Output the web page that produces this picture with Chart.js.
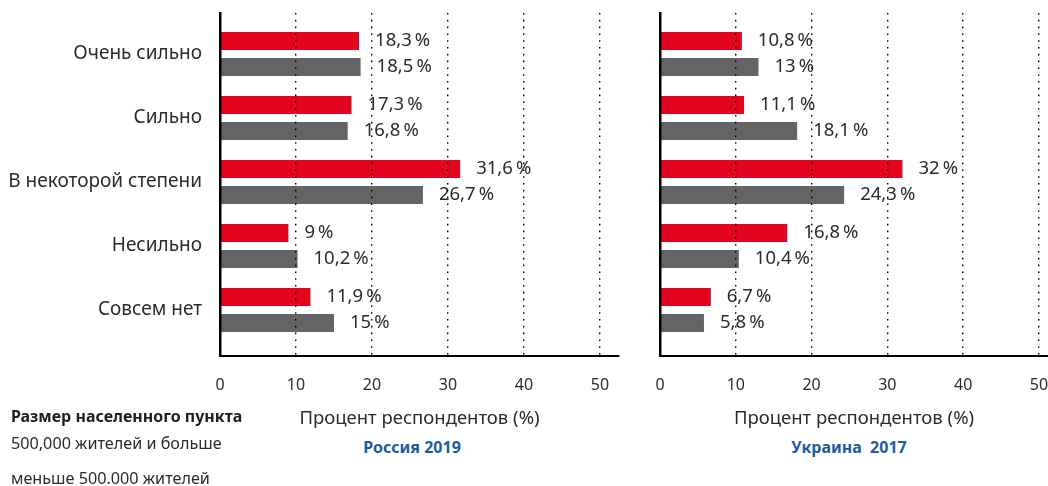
<!DOCTYPE html>
<html><head><meta charset="utf-8">
<script src="https://cdn.jsdelivr.net/npm/chart.js@4.4.1/dist/chart.umd.min.js"></script>
<style>
html,body{margin:0;padding:0;background:#fff;}
body{width:1048px;height:486px;position:relative;overflow:hidden;font-family:"Noto Sans",sans-serif;color:#2b2b2b;}
.c{position:absolute;top:0;}
#wl{left:0;width:620px;height:430px;}
#wr{left:620px;width:428px;height:430px;}
.t{position:absolute;white-space:pre;line-height:1.2;transform:translateY(-50%);}
.pt{position:absolute;white-space:pre;line-height:1.2;transform:translate(-50%,-50%);font-weight:bold;font-size:16px;color:#1b5c9e;}
</style></head><body>
<div class="c" id="wl"><canvas id="cl"></canvas></div>
<div class="c" id="wr"><canvas id="cr"></canvas></div>
<div class="t" id="lgTitle" style="left:11px;top:417px;font-weight:bold;font-size:16px;color:#1e1e1e;"></div>
<div class="t" id="lg0" style="left:11px;top:444px;font-size:16.2px;"></div>
<div class="t" id="lg1" style="left:11px;top:479px;font-size:16.2px;"></div>
<div class="pt" id="pt0" style="left:412px;top:448px;"></div>
<div class="pt" id="pt1" style="left:849px;top:448px;"></div>
<script>
const categories = ["Очень сильно", "Сильно", "В некоторой степени", "Несильно", "Совсем нет"];
const seriesNames = ["500,000 жителей и больше", "меньше 500.000 жителей"];
const legendTitle = "Размер населенного пункта";
const russiaLarge = [18.3, 17.3, 31.6, 9, 11.9];
const russiaSmall = [18.5, 16.8, 26.7, 10.2, 15];
const ukraineLarge = [10.8, 11.1, 32, 16.8, 6.7];
const ukraineSmall = [13, 18.1, 24.3, 10.4, 5.8];
const xTicks = [0, 10, 20, 30, 40, 50];
const axisTitle = "Процент респондентов (%)";
const panelTitles = ["Россия 2019", "Украина  2017"];

document.getElementById('lgTitle').textContent = legendTitle;
document.getElementById('lg0').textContent = seriesNames[0];
document.getElementById('lg1').textContent = seriesNames[1];
document.getElementById('pt0').textContent = panelTitles[0];
document.getElementById('pt1').textContent = panelTitles[1];

Chart.defaults.font.family = '"Noto Sans", sans-serif';
Chart.defaults.color = '#2b2b2b';

const RED = '#e2051d', GREY = '#646464', TXT = '#2b2b2b';
const fmt = v => String(v).replace('.', ',') + '\u2009%';

const valueLabels = {
  id: 'valueLabels',
  afterDatasetsDraw(chart) {
    const ctx = chart.ctx;
    ctx.save();
    ctx.font = '18.5px "Noto Sans"';
    ctx.fillStyle = TXT;
    ctx.textBaseline = 'middle';
    ctx.textAlign = 'left';
    chart.data.datasets.forEach((ds, di) => {
      chart.getDatasetMeta(di).data.forEach((bar, i) => {
        ctx.fillText(fmt(ds.data[i].x), bar.x + 16, bar.y);
      });
    });
    ctx.restore();
  }
};

function makeChart(id, large, small, xMax, yWidth, showCats, padRight) {
  return new Chart(document.getElementById(id), {
    type: 'bar',
    data: {
      datasets: [
        { label: seriesNames[0], data: large.map((v, i) => ({ x: v, y: i })), backgroundColor: RED },
        { label: seriesNames[1], data: small.map((v, i) => ({ x: v, y: i })), backgroundColor: GREY }
      ]
    },
    options: {
      indexAxis: 'y',
      responsive: true,
      maintainAspectRatio: false,
      animation: false,
      devicePixelRatio: 1,
      categoryPercentage: 0.8125,
      barPercentage: 0.6923,
      layout: { autoPadding: false, padding: { top: 13, right: padRight, left: 0, bottom: 0 } },
      plugins: { legend: { display: false }, tooltip: { enabled: false } },
      scales: {
        x: {
          type: 'linear', min: 0, max: xMax,
          afterBuildTicks: s => { s.ticks = xTicks.map(v => ({ value: v })); },
          afterFit: s => { s.height = 74; s.paddingLeft = 0; s.paddingRight = 0; },
          grid: { display: true, drawTicks: true, tickLength: 20, tickWidth: 0, tickColor: 'rgba(0,0,0,0)', color: '#000', lineWidth: 1.4, z: 1 },
          border: { display: true, color: '#000', width: 2, dash: [1.6, 5.2], z: 2 },
          ticks: { padding: 0, font: { size: 16 }, color: TXT },
          title: { display: true, text: axisTitle, font: { size: 18.5 }, color: TXT, padding: { top: 0, bottom: 0 } }
        },
        y: {
          type: 'linear', reverse: true, offset: false, min: -0.6406, max: 4.7188,
          afterBuildTicks: s => { s.ticks = categories.map((c, i) => ({ value: i })); },
          afterFit: s => { s.width = yWidth; s.paddingTop = 0; s.paddingBottom = 0; },
          grid: { display: false, drawTicks: false, offset: false },
          border: { display: true, color: '#000', width: 2.5, z: 2 },
          ticks: { display: showCats, padding: 18, font: { size: 19 }, color: TXT, callback: v => categories[v] }
        }
      }
    },
    plugins: [valueLabels]
  });
}

makeChart('cl', russiaLarge, russiaSmall, 52.5, 220, true, 1);
makeChart('cr', ukraineLarge, ukraineSmall, 51.2, 40, false, 0);
</script>
</body></html>
